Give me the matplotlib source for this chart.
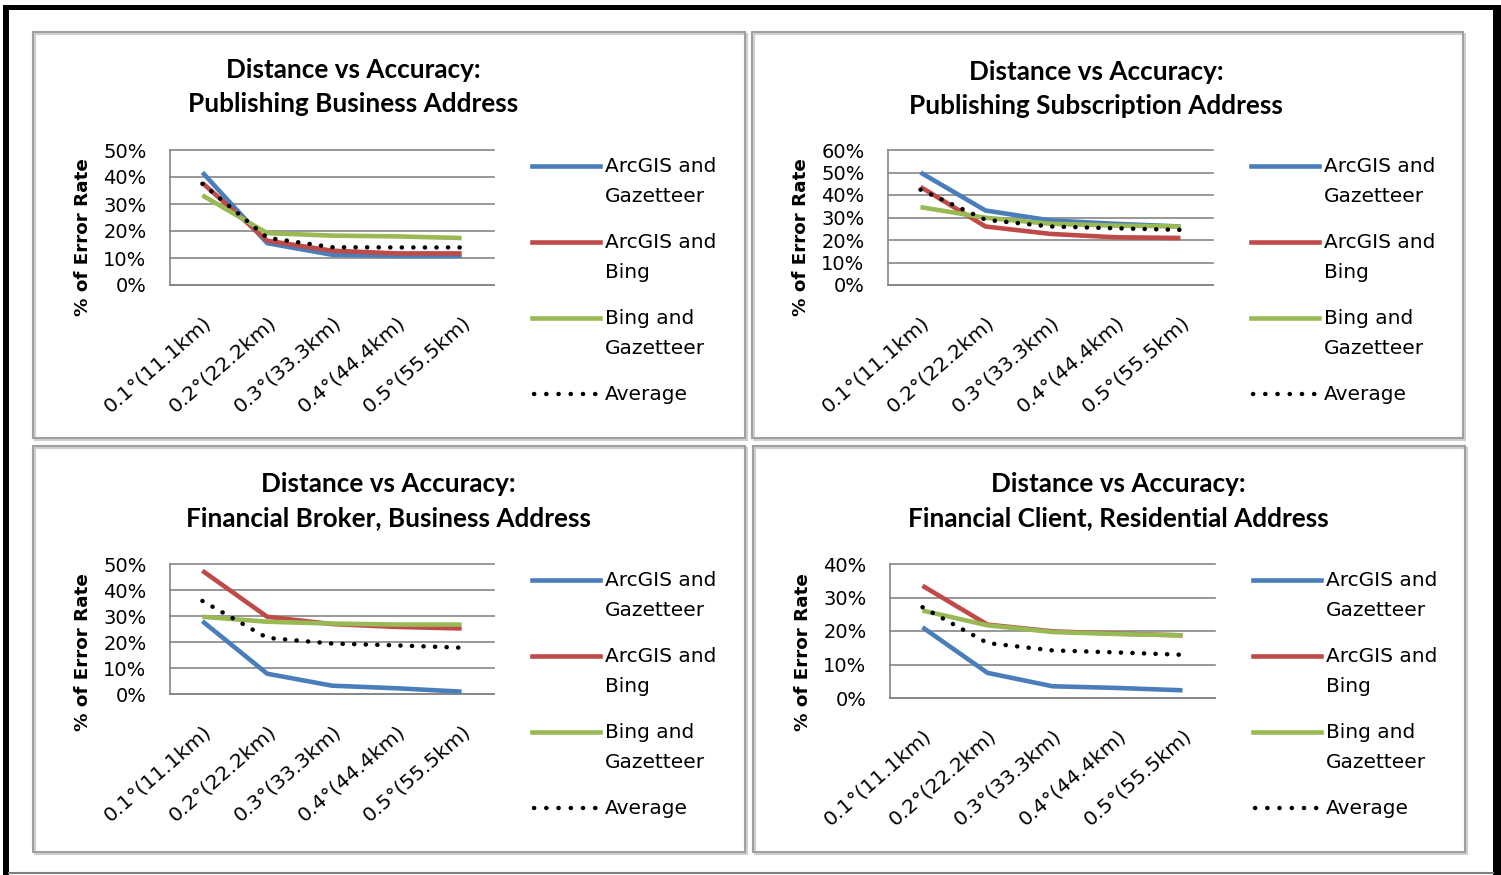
import matplotlib
matplotlib.use("Agg")
import matplotlib.pyplot as plt
from matplotlib.patches import Rectangle
from matplotlib.lines import Line2D
from matplotlib.transforms import ScaledTranslation

# ---------------- data ----------------
categories = ["0.1°(11.1km)", "0.2°(22.2km)", "0.3°(33.3km)", "0.4°(44.4km)", "0.5°(55.5km)"]
series_names = ["ArcGIS and\nGazetteer", "ArcGIS and\nBing", "Bing and\nGazetteer", "Average"]

titles = [
    "Distance vs Accuracy:\nPublishing Business Address",
    "Distance vs Accuracy:\nPublishing Subscription Address",
    "Distance vs Accuracy:\nFinancial Broker, Business Address",
    "Distance vs Accuracy:\nFinancial Client, Residential Address",
]
y_max = [0.5, 0.6, 0.5, 0.4]

# Publishing Business Address
pb_arcgis_gaz = [0.417, 0.155, 0.112, 0.108, 0.108]
pb_arcgis_bing = [0.378, 0.164, 0.127, 0.117, 0.117]
pb_bing_gaz = [0.332, 0.192, 0.183, 0.180, 0.174]
pb_average = [0.375, 0.175, 0.140, 0.139, 0.139]

# Publishing Subscription Address
ps_arcgis_gaz = [0.500, 0.331, 0.287, 0.272, 0.260]
ps_arcgis_bing = [0.436, 0.260, 0.227, 0.212, 0.209]
ps_bing_gaz = [0.346, 0.299, 0.272, 0.264, 0.260]
ps_average = [0.424, 0.290, 0.260, 0.252, 0.245]

# Financial Broker, Business Address
fb_arcgis_gaz = [0.280, 0.078, 0.032, 0.022, 0.009]
fb_arcgis_bing = [0.474, 0.297, 0.269, 0.258, 0.252]
fb_bing_gaz = [0.297, 0.278, 0.271, 0.267, 0.267]
fb_average = [0.358, 0.216, 0.194, 0.187, 0.178]

# Financial Client, Residential Address
fc_arcgis_gaz = [0.211, 0.075, 0.035, 0.030, 0.023]
fc_arcgis_bing = [0.335, 0.219, 0.199, 0.192, 0.187]
fc_bing_gaz = [0.261, 0.217, 0.197, 0.191, 0.187]
fc_average = [0.271, 0.164, 0.142, 0.136, 0.129]

panel_data = [
    [pb_arcgis_gaz, pb_arcgis_bing, pb_bing_gaz, pb_average],
    [ps_arcgis_gaz, ps_arcgis_bing, ps_bing_gaz, ps_average],
    [fb_arcgis_gaz, fb_arcgis_bing, fb_bing_gaz, fb_average],
    [fc_arcgis_gaz, fc_arcgis_bing, fc_bing_gaz, fc_average],
]

# ---------------- styling / layout ----------------
W, H = 1501, 875
colors = ["#4A7EBB", "#BE4B48", "#98B954", "black"]
grid_col = "#868686"
tick_font = "DejaVu Sans"
title_font = "Lato"
LW = 3.3
DOT_LW = 3.2
DOT_STYLE = (0, (0.05, 2.55))

fig = plt.figure(figsize=(W / 100, H / 100), dpi=100)
fig.patch.set_facecolor("white")

bg = fig.add_axes([0, 0, 1, 1], zorder=-10)
bg.set_xlim(0, W)
bg.set_ylim(H, 0)
bg.axis("off")

# outer frame
bg.add_patch(Rectangle((3, 5), W - 3, 5, color="black", lw=0))
bg.add_patch(Rectangle((3, 5), 6, H - 5, color="black", lw=0))
bg.add_patch(Rectangle((1493, 5), 8, H - 5, color="black", lw=0))
bg.plot([9, 1493], [873, 873], color="#7f7f7f", lw=1.5)

panel_boxes = [(33, 32, 745, 438), (752, 32, 1463, 438), (33, 446, 745, 852), (753, 446, 1465, 852)]
plot_boxes = [(170, 150, 494, 285), (888, 150, 1213, 285), (170, 564, 494, 694), (890, 564, 1215, 698)]
title_pos = [(353, 70), (1096, 72), (388, 484), (1118, 484)]
ylabel_pos = [(82, 237), (800, 237), (82, 652), (802, 652)]
legend_pos = [(532, 166), (1251, 166), (532, 580), (1253, 580)]

for (x0, y0, x1, y1) in panel_boxes:
    bg.add_patch(Rectangle((x0 + 1.5, y0 + 1.5), x1 - x0, y1 - y0, fill=False, ec="#d0d0d0", lw=1.5))
    bg.add_patch(Rectangle((x0, y0), x1 - x0, y1 - y0, fill=False, ec="#a0a0a0", lw=1.5))

for i in range(4):
    x0, y0, x1, y1 = plot_boxes[i]
    ax = fig.add_axes([x0 / W, 1 - y1 / H, (x1 - x0) / W, (y1 - y0) / H])
    ax.set_facecolor("none")
    xs = list(range(len(categories)))
    for j, vals in enumerate(panel_data[i]):
        if j < 3:
            ax.plot(xs, vals, color=colors[j], lw=LW, solid_capstyle="butt", zorder=3 + j)
        else:
            ax.plot(xs, vals, color="black", lw=DOT_LW, linestyle=DOT_STYLE,
                    dash_capstyle="round", zorder=7)
    ax.set_xlim(-0.5, len(categories) - 0.5)
    ymax = y_max[i]
    ax.set_ylim(0, ymax)
    ticks = [k / 10 for k in range(int(round(ymax * 10)) + 1)]
    ax.set_yticks(ticks)
    ax.set_yticklabels([f"{int(round(t * 100))}%" for t in ticks], fontsize=14, family=tick_font)
    for t in ticks:
        ax.axhline(t, color=grid_col, lw=1.2, zorder=1, clip_on=False)
    ax.set_xticks(xs)
    ax.set_xticklabels(categories, fontsize=14.7, family=tick_font)
    offset = ScaledTranslation(-11 / 100, 0, fig.dpi_scale_trans)
    for lab in ax.get_xticklabels():
        lab.set_rotation(41)
        lab.set_ha("right")
        lab.set_va("top")
        lab.set_rotation_mode("anchor")
        lab.set_transform(lab.get_transform() + offset)
    ax.tick_params(axis="y", length=0, pad=17)
    ax.tick_params(axis="x", length=0, pad=20)
    for s in ["top", "right"]:
        ax.spines[s].set_visible(False)
    ax.spines["left"].set_color(grid_col)
    ax.spines["bottom"].set_color(grid_col)
    ax.spines["left"].set_linewidth(1.2)
    ax.spines["bottom"].set_linewidth(1.2)

    # title
    tx, ty = title_pos[i]
    l1, l2 = titles[i].split("\n")
    bg.text(tx, ty, l1, ha="center", va="center", fontsize=18.8, fontweight="bold", family=title_font)
    bg.text(tx, ty + 34, l2, ha="center", va="center", fontsize=18.8, fontweight="bold", family=title_font)

    # y label
    yx, yy = ylabel_pos[i]
    bg.text(yx + 1, yy, "% of Error Rate", rotation=90, ha="center", va="center",
            fontsize=13.2, fontweight="bold", family=tick_font)

    # legend
    lx, ly = legend_pos[i]
    for j, name in enumerate(series_names):
        yline = ly + 76 * j
        if j < 3:
            bg.add_line(Line2D([lx, lx + 68], [yline, yline], color=colors[j], lw=LW))
        else:
            bg.add_line(Line2D([lx + 2, lx + 64], [yline, yline], color="black", lw=DOT_LW,
                               linestyle=(0, (0.05, 2.7)), dash_capstyle="round"))
        for k, part in enumerate(name.split("\n")):
            bg.text(lx + 73, yline + 30 * k, part, ha="left", va="center",
                    fontsize=14.5, family=tick_font)

fig.savefig("out.png", dpi=100, facecolor="white")
